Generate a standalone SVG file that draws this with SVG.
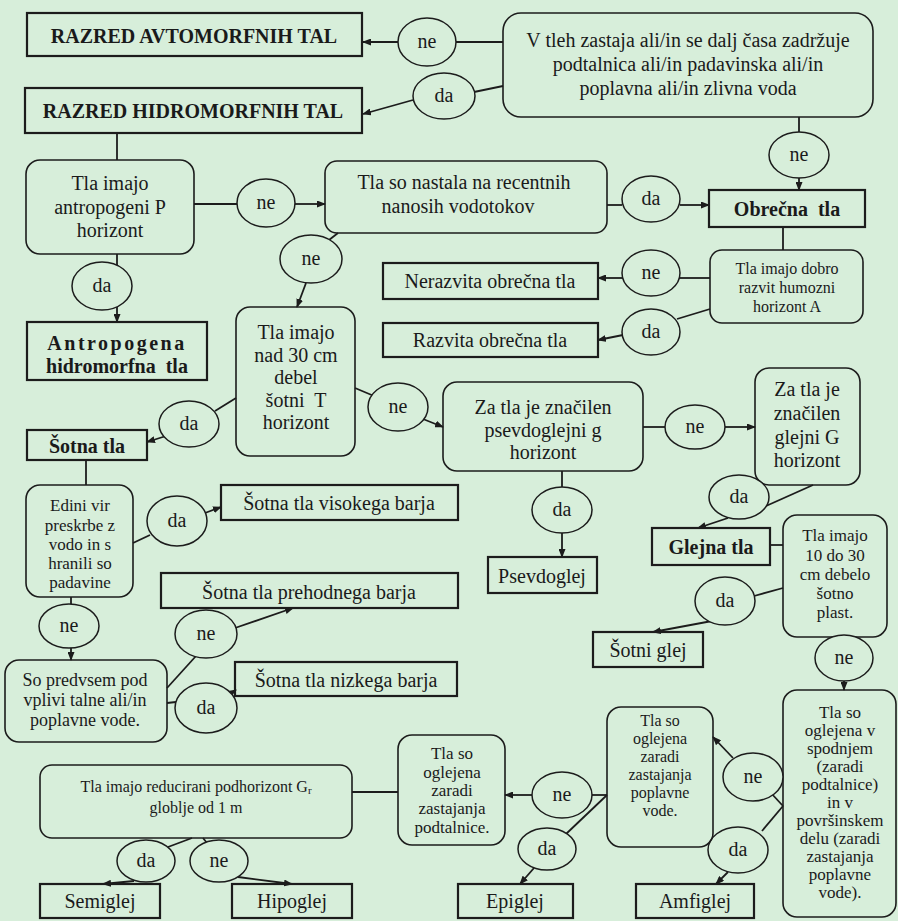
<svg xmlns="http://www.w3.org/2000/svg" width="898" height="921" viewBox="0 0 898 921" font-family="Liberation Serif, Times New Roman, serif">
<style>
text{font-family:"Liberation Serif","Times New Roman",serif;fill:#1a1a1a;text-anchor:middle;dominant-baseline:central}
.t20{font-size:20px}
.t18{font-size:18px}
.t17{font-size:17px}
.t16{font-size:16px}
.b{font-size:20px;font-weight:bold}
.box{fill:none;stroke:#1c1c1c;stroke-width:2.2}
.rbox{fill:none;stroke:#1c1c1c;stroke-width:1.6}
.oval{fill:#d7eeda;stroke:#1c1c1c;stroke-width:1.5}
.c{fill:none;stroke:#1c1c1c;stroke-width:1.8}
.a{fill:none;stroke:#1c1c1c;stroke-width:1.8;marker-end:url(#ah)}
</style>
<defs>
<marker id="ah" markerUnits="userSpaceOnUse" markerWidth="9" markerHeight="7" refX="8" refY="3.5" orient="auto">
<path d="M0,0 L9,3.5 L0,7 z" fill="#1c1c1c"/>
</marker>
</defs>
<rect width="898" height="921" fill="#d7eeda"/>

<g id="connectors">
<line class="c" x1="503" y1="42" x2="456" y2="42"/>
<line class="a" x1="398" y1="42" x2="363" y2="42"/>
<line class="c" x1="503" y1="86" x2="474" y2="92"/>
<line class="a" x1="413" y1="100" x2="363" y2="114"/>
<line class="c" x1="117" y1="133" x2="117" y2="160"/>
<line class="c" x1="799" y1="117" x2="799" y2="132" stroke-width="1.2"/>
<line class="a" x1="799" y1="178" x2="799" y2="190"/>
<line class="c" x1="194" y1="204" x2="237" y2="204"/>
<line class="a" x1="295" y1="204" x2="325" y2="204"/>
<line class="c" x1="117" y1="254" x2="117" y2="265"/>
<line class="a" x1="117" y1="307" x2="117" y2="322"/>
<line class="c" x1="607" y1="205" x2="622" y2="205"/>
<line class="a" x1="680" y1="205" x2="709" y2="205"/>
<line class="c" x1="338" y1="233" x2="329" y2="240"/>
<line class="a" x1="306" y1="283" x2="297" y2="307"/>
<line class="c" x1="783" y1="227" x2="783" y2="250"/>
<line class="c" x1="710" y1="278" x2="679" y2="278"/>
<line class="a" x1="623" y1="278" x2="598" y2="278"/>
<line class="c" x1="710" y1="309" x2="677" y2="319"/>
<line class="a" x1="623" y1="335" x2="598" y2="340"/>
<line class="c" x1="236" y1="398" x2="215" y2="411"/>
<line class="a" x1="166" y1="436" x2="147" y2="442"/>
<line class="c" x1="355" y1="388" x2="374" y2="396"/>
<line class="a" x1="423" y1="419" x2="443" y2="427"/>
<line class="c" x1="643" y1="427" x2="665" y2="427"/>
<line class="a" x1="725" y1="427" x2="755" y2="427"/>
<line class="c" x1="562" y1="471" x2="562" y2="487"/>
<line class="a" x1="562" y1="533" x2="562" y2="557"/>
<line class="c" x1="813" y1="485" x2="766" y2="506"/>
<line class="a" x1="728" y1="518" x2="698" y2="528"/>
<line class="c" x1="770" y1="545" x2="783" y2="545"/>
<line class="c" x1="783" y1="588" x2="754" y2="596"/>
<line class="a" x1="712" y1="621" x2="653" y2="632"/>
<line class="a" x1="844" y1="681" x2="844" y2="690"/>
<line class="c" x1="783" y1="806" x2="771" y2="793"/>
<line class="a" x1="733" y1="758" x2="713" y2="737"/>
<line class="c" x1="783" y1="806" x2="762" y2="831"/>
<line class="a" x1="728" y1="872" x2="716" y2="884"/>
<line class="c" x1="607" y1="795" x2="592" y2="795"/>
<line class="a" x1="532" y1="795" x2="505" y2="795"/>
<line class="c" x1="607" y1="795" x2="566" y2="834"/>
<line class="a" x1="534" y1="868" x2="520" y2="884"/>
<line class="c" x1="398" y1="792" x2="352" y2="792"/>
<line class="c" x1="192" y1="838" x2="168" y2="847"/>
<line class="c" x1="203" y1="838" x2="207" y2="843"/>
<line class="a" x1="134" y1="881" x2="103" y2="884"/>
<line class="a" x1="238" y1="877" x2="292" y2="884"/>
<line class="c" x1="86" y1="460" x2="86" y2="485"/>
<line class="c" x1="133" y1="543" x2="150" y2="535"/>
<line class="a" x1="205" y1="513" x2="221" y2="507"/>
<line class="c" x1="71" y1="597" x2="71" y2="604"/>
<line class="a" x1="71" y1="648" x2="71" y2="660"/>
<line class="c" x1="167" y1="688" x2="196" y2="656"/>
<line class="a" x1="235" y1="628" x2="293" y2="608"/>
<line class="c" x1="167" y1="703" x2="176" y2="702"/>
<line class="a" x1="224" y1="697" x2="236" y2="690"/>
</g>

<g id="n_avto"><rect class="box" x="27" y="13" width="335" height="43"/><text class="b" x="194" y="36">RAZRED AVTOMORFNIH TAL</text></g>
<g id="n_hidro"><rect class="box" x="25" y="88" width="337" height="45"/><text class="b" x="193" y="111">RAZRED HIDROMORFNIH TAL</text></g>
<g id="q1"><rect class="rbox" x="503" y="13" width="370" height="104" rx="18"/>
<text class="t20" x="688" y="40">V tleh zastaja ali/in se dalj časa zadržuje</text>
<text class="t20" x="688" y="64">podtalnica ali/in padavinska ali/in</text>
<text class="t20" x="688" y="88">poplavna ali/in zlivna voda</text></g>
<g id="e_ne1"><ellipse class="oval" cx="427" cy="42" rx="29" ry="24"/><text class="t20" x="427" y="41">ne</text></g>
<g id="e_da1"><ellipse class="oval" cx="444" cy="96" rx="31" ry="23"/><text class="t20" x="444" y="95">da</text></g>
<g id="e_ne2"><ellipse class="oval" cx="799" cy="155" rx="30" ry="23"/><text class="t20" x="799" y="154">ne</text></g>

<g id="q2"><rect class="rbox" x="26" y="160" width="168" height="94" rx="14"/>
<text class="t20" x="110" y="183">Tla imajo</text>
<text class="t20" x="110" y="207">antropogeni P</text>
<text class="t20" x="110" y="230">horizont</text></g>
<g id="e_ne3"><ellipse class="oval" cx="266" cy="203" rx="29" ry="24"/><text class="t20" x="266" y="202">ne</text></g>
<g id="e_da2"><ellipse class="oval" cx="102" cy="286" rx="30" ry="24"/><text class="t20" x="102" y="285">da</text></g>
<g id="n_antro"><rect class="box" x="27" y="322" width="180" height="58"/>
<text class="b" x="117" y="343" letter-spacing="2.5">Antropogena</text>
<text class="b" x="117" y="366" xml:space="preserve">hidromorfna  tla</text></g>

<g id="q3"><rect class="rbox" x="325" y="161" width="282" height="72" rx="12"/>
<text class="t20" x="464" y="182">Tla so nastala na recentnih</text>
<text class="t20" x="458" y="206">nanosih vodotokov</text></g>
<g id="e_da3"><ellipse class="oval" cx="651" cy="199" rx="29" ry="23"/><text class="t20" x="651" y="198">da</text></g>
<g id="n_obrecna"><rect class="box" x="709" y="190" width="156" height="37"/><text class="b" x="787" y="209" xml:space="preserve">Obrečna  tla</text></g>
<g id="e_ne4"><ellipse class="oval" cx="311" cy="259" rx="31" ry="24"/><text class="t20" x="311" y="258">ne</text></g>

<g id="q4"><rect class="rbox" x="710" y="250" width="153" height="73" rx="12"/>
<text class="t16" x="787" y="268">Tla imajo dobro</text>
<text class="t16" x="787" y="287">razvit humozni</text>
<text class="t16" x="787" y="306">horizont A</text></g>
<g id="e_ne5"><ellipse class="oval" cx="651" cy="273" rx="29" ry="23"/><text class="t20" x="651" y="272">ne</text></g>
<g id="e_da4"><ellipse class="oval" cx="651" cy="332" rx="29" ry="23"/><text class="t20" x="651" y="331">da</text></g>
<g id="n_nerazvita"><rect class="box" x="383" y="263" width="215" height="36"/><text class="t20" x="490" y="281">Nerazvita obrečna tla</text></g>
<g id="n_razvita"><rect class="box" x="383" y="323" width="215" height="34"/><text class="t20" x="490" y="340">Razvita obrečna tla</text></g>

<g id="q5"><rect class="rbox" x="236" y="307" width="119" height="149" rx="14"/>
<text class="t20" x="296" y="332">Tla imajo</text>
<text class="t20" x="296" y="355">nad 30 cm</text>
<text class="t20" x="296" y="377">debel</text>
<text class="t20" x="296" y="400" xml:space="preserve">šotni  T</text>
<text class="t20" x="296" y="422">horizont</text></g>
<g id="e_da5"><ellipse class="oval" cx="189" cy="424" rx="30" ry="23"/><text class="t20" x="189" y="423">da</text></g>
<g id="e_ne6"><ellipse class="oval" cx="398" cy="407" rx="30" ry="24"/><text class="t20" x="398" y="406">ne</text></g>
<g id="n_sotna"><rect class="box" x="27" y="430" width="120" height="30"/><text class="b" x="87" y="446">Šotna tla</text></g>

<g id="q6"><rect class="rbox" x="443" y="382" width="200" height="89" rx="14"/>
<text class="t20" x="543" y="407">Za tla je značilen</text>
<text class="t20" x="543" y="430">psevdoglejni g</text>
<text class="t20" x="543" y="452">horizont</text></g>
<g id="e_ne7"><ellipse class="oval" cx="695" cy="427" rx="30" ry="22"/><text class="t20" x="695" y="426">ne</text></g>
<g id="q7"><rect class="rbox" x="755" y="368" width="105" height="117" rx="14"/>
<text class="t20" x="807" y="389">Za tla je</text>
<text class="t20" x="807" y="413">značilen</text>
<text class="t20" x="807" y="437">glejni G</text>
<text class="t20" x="807" y="460">horizont</text></g>
<g id="e_da6"><ellipse class="oval" cx="562" cy="510" rx="30" ry="23"/><text class="t20" x="562" y="509">da</text></g>
<g id="n_psevdoglej"><rect class="box" x="488" y="557" width="109" height="36"/><text class="t20" x="542" y="576">Psevdoglej</text></g>
<g id="e_da7"><ellipse class="oval" cx="739" cy="497" rx="30" ry="22"/><text class="t20" x="739" y="496">da</text></g>
<g id="n_glejna"><rect class="box" x="652" y="528" width="118" height="37"/><text class="b" x="711" y="547">Glejna tla</text></g>

<g id="q8"><rect class="rbox" x="783" y="515" width="104" height="122" rx="14"/>
<text class="t17" x="835" y="535">Tla imajo</text>
<text class="t17" x="835" y="555">10 do 30</text>
<text class="t17" x="835" y="574">cm debelo</text>
<text class="t17" x="835" y="593">šotno</text>
<text class="t17" x="835" y="612">plast.</text></g>
<g id="e_da8"><ellipse class="oval" cx="725" cy="601" rx="30" ry="24"/><text class="t20" x="725" y="600">da</text></g>
<g id="n_sotniglej"><rect class="box" x="593" y="632" width="110" height="35"/><text class="t20" x="648" y="650">Šotni glej</text></g>
<g id="e_ne8"><ellipse class="oval" cx="844" cy="658" rx="29" ry="23"/><text class="t20" x="844" y="657">ne</text></g>

<g id="q9"><rect class="rbox" x="783" y="690" width="113" height="227" rx="14"/>
<text class="t17" x="840" y="712">Tla so</text>
<text class="t17" x="840" y="730">oglejena v</text>
<text class="t17" x="840" y="748">spodnjem</text>
<text class="t17" x="840" y="766">(zaradi</text>
<text class="t17" x="840" y="784">podtalnice)</text>
<text class="t17" x="840" y="802">in v</text>
<text class="t17" x="840" y="820">površinskem</text>
<text class="t17" x="840" y="838">delu (zaradi</text>
<text class="t17" x="840" y="856">zastajanja</text>
<text class="t17" x="840" y="874">poplavne</text>
<text class="t17" x="840" y="892">vode).</text></g>
<g id="e_ne9"><ellipse class="oval" cx="753" cy="777" rx="30" ry="24"/><text class="t20" x="753" y="776">ne</text></g>
<g id="e_da9"><ellipse class="oval" cx="738" cy="850" rx="30" ry="23"/><text class="t20" x="738" y="849">da</text></g>
<g id="n_amfiglej"><rect class="box" x="636" y="884" width="118" height="34"/><text class="t20" x="695" y="901">Amfiglej</text></g>

<g id="q10"><rect class="rbox" x="607" y="707" width="106" height="140" rx="14"/>
<text class="t16" x="660" y="720">Tla so</text>
<text class="t16" x="660" y="738">oglejena</text>
<text class="t16" x="660" y="756">zaradi</text>
<text class="t16" x="660" y="774">zastajanja</text>
<text class="t16" x="660" y="792">poplavne</text>
<text class="t16" x="660" y="810">vode.</text></g>
<g id="e_ne10"><ellipse class="oval" cx="562" cy="795" rx="30" ry="23"/><text class="t20" x="562" y="794">ne</text></g>
<g id="e_da10"><ellipse class="oval" cx="547" cy="849" rx="29" ry="21"/><text class="t20" x="547" y="848">da</text></g>
<g id="n_epiglej"><rect class="box" x="458" y="884" width="115" height="34"/><text class="t20" x="515" y="901">Epiglej</text></g>

<g id="q11"><rect class="rbox" x="398" y="735" width="107" height="110" rx="14"/>
<text class="t17" x="452" y="753">Tla so</text>
<text class="t17" x="452" y="772">oglejena</text>
<text class="t17" x="452" y="790">zaradi</text>
<text class="t17" x="452" y="808">zastajanja</text>
<text class="t17" x="452" y="827">podtalnice.</text></g>

<g id="q12"><rect class="rbox" x="40" y="765" width="312" height="73" rx="12"/>
<text class="t16" x="196" y="786">Tla imajo reducirani podhorizont G<tspan font-size="11" dy="4">r</tspan></text>
<text class="t16" x="196" y="807">globlje od 1 m</text></g>
<g id="e_da11"><ellipse class="oval" cx="146" cy="861" rx="29" ry="21"/><text class="t20" x="146" y="860">da</text></g>
<g id="e_ne11"><ellipse class="oval" cx="219" cy="861" rx="29" ry="21"/><text class="t20" x="219" y="860">ne</text></g>
<g id="n_semiglej"><rect class="box" x="40" y="884" width="120" height="34"/><text class="t20" x="100" y="901">Semiglej</text></g>
<g id="n_hipoglej"><rect class="box" x="232" y="884" width="120" height="34"/><text class="t20" x="292" y="901">Hipoglej</text></g>

<g id="q13"><rect class="rbox" x="26" y="485" width="107" height="112" rx="14"/>
<text class="t17" x="80" y="505">Edini vir</text>
<text class="t17" x="80" y="525">preskrbe z</text>
<text class="t17" x="80" y="544">vodo in s</text>
<text class="t17" x="80" y="563">hranili so</text>
<text class="t17" x="80" y="582">padavine</text></g>
<g id="e_da12"><ellipse class="oval" cx="177" cy="521" rx="30" ry="25"/><text class="t20" x="177" y="520">da</text></g>
<g id="n_visokega"><rect class="box" x="221" y="485" width="237" height="35"/><text class="t20" x="339" y="503">Šotna tla visokega barja</text></g>
<g id="e_ne12"><ellipse class="oval" cx="69" cy="626" rx="30" ry="22"/><text class="t20" x="69" y="625">ne</text></g>
<g id="n_prehodnega"><rect class="box" x="161" y="573" width="297" height="35"/><text class="t20" x="309" y="592">Šotna tla prehodnega barja</text></g>

<g id="q14"><rect class="rbox" x="5" y="660" width="162" height="82" rx="14"/>
<text class="t18" x="85" y="680">So predvsem pod</text>
<text class="t18" x="85" y="700">vplivi talne ali/in</text>
<text class="t18" x="85" y="720">poplavne vode.</text></g>
<g id="e_ne13"><ellipse class="oval" cx="206" cy="634" rx="31" ry="24"/><text class="t20" x="206" y="633">ne</text></g>
<g id="e_da13"><ellipse class="oval" cx="206" cy="708" rx="31" ry="25"/><text class="t20" x="206" y="707">da</text></g>
<g id="n_nizkega"><rect class="box" x="235" y="662" width="222" height="34"/><text class="t20" x="346" y="680">Šotna tla nizkega barja</text></g>
</svg>
